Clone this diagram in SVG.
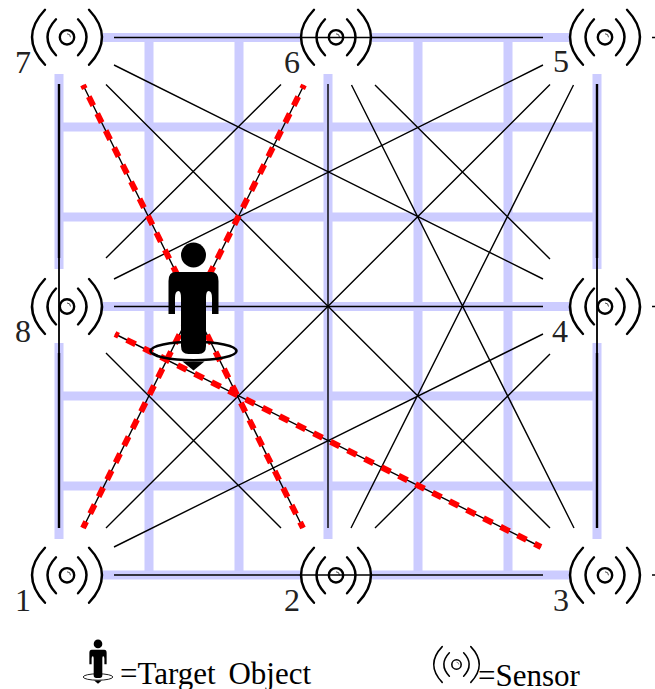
<svg xmlns="http://www.w3.org/2000/svg" xmlns:xlink="http://www.w3.org/1999/xlink" width="655" height="689" viewBox="0 0 655 689">
<style>
.g{stroke:#ccccff;stroke-width:9;fill:none}
.k{stroke:#000;stroke-width:1.4;fill:none}
.t{stroke:#000;stroke-width:2.4;fill:none}
.r{stroke:#ff0000;stroke-width:6;fill:none;stroke-dasharray:10 9;stroke-dashoffset:6}
.a{stroke:#000;stroke-width:2.4;fill:none;stroke-linecap:round}
.n{font-family:"Liberation Serif",serif;font-size:32px;fill:#222}
.l{font-family:"Liberation Serif",serif;font-size:31px;fill:#000;word-spacing:5px}
</style>
<defs>
<g id="sensor">
<path class="a" d="M-22-27.500Q-48 0-22 27.500M22-27.500Q48 0 22 27.500M-11-18Q-28 0-11 18M11-18Q28 0 11 18"/>
<circle r="7.200" fill="none" stroke="#000" stroke-width="2.400"/>
<path d="M0-3.500A3.500 3.500 0 0 1 3.500 0" fill="none" stroke="#000" stroke-width="0.700"/>
</g>
<g id="person">
<circle cx="0" cy="-96" r="12.500" fill="#000"/>
<path fill="#000" d="M-18-79H18Q25-79 25-70V-37H18.500V-53Q18.500-60 15-60Q12.500-60 12.500-53V-5Q12.500 3 5 3H-5Q-12.500 3-12.500-5V-53Q-12.500-60-15-60Q-18.500-60-18.500-53V-37H-25V-70Q-25-79-18-79Z"/>
<ellipse cx="0" cy="0" rx="43" ry="9.300" fill="none" stroke="#000" stroke-width="2.600"/>
<path fill="#000" d="M-11 10.500H11L0 19.500Z"/>
</g>
</defs>
<g id="grid">
<path class="g" d="M149 37V575M239 37V575M418 37V575M508 37V575M328 74V539M59 74V269M59 343V539M597 74V269M597 343V539"/>
<path class="g" d="M55 127H601M55 217H601M55 396H601M55 486H601M103 306.500H569M103 37.500H300M372 37.500H569M103 575H300M372 575H569"/>
</g>
<g id="connectors">
<path class="k" d="M114 37.500H543M114 306.500H543M114 575H543M59 84V528M328 84V528M597 84V528"/>
<path class="t" d="M59 84V258M59 353V528M597 84V258M597 353V528"/>
<path class="k" d="M114 65L543 279M106 84.500L550 528M83 85L303 528M281 84.500L106 258M304 85L83 528M351.500 85L574 528M375 85L550 259M543 65L114 279M550 84.500L106 528M573.500 85L351 528M115 334L541 547M106 353L281 528M543 334L114 547M550 354L375 528"/>
<path class="r" d="M83 85L303 528M304 85L83 528M115 334L541 547"/>
</g>
<g id="sensor-7"><use xlink:href="#sensor" x="67" y="37.300"/><text class="n" x="15" y="73">7</text></g>
<g id="sensor-6"><use xlink:href="#sensor" x="336" y="37.300"/><text class="n" x="284" y="73">6</text></g>
<g id="sensor-5"><use xlink:href="#sensor" x="605" y="37.300"/><text class="n" x="553" y="72">5</text></g>
<g id="sensor-8"><use xlink:href="#sensor" x="67" y="306.500"/><text class="n" x="15" y="342">8</text></g>
<g id="sensor-4"><use xlink:href="#sensor" x="605" y="306.500"/><text class="n" x="552" y="342">4</text></g>
<g id="sensor-1"><use xlink:href="#sensor" x="67" y="575.300"/><text class="n" x="15" y="611">1</text></g>
<g id="sensor-2"><use xlink:href="#sensor" x="336" y="575.300"/><text class="n" x="284" y="611">2</text></g>
<g id="sensor-3"><use xlink:href="#sensor" x="605" y="575.300"/><text class="n" x="553" y="611">3</text></g>
<path class="k" d="M59 258V353M597 258V353"/>
<g id="target"><use xlink:href="#person" transform="translate(193.500 351)"/></g>
<g id="legend">
<use xlink:href="#person" transform="translate(98 677) scale(0.345)"/>
<text class="l" x="120" y="684">=Target Object</text>
<use xlink:href="#sensor" transform="translate(456.500 664.500) scale(0.65)"/>
<text class="l" x="478" y="686">=Sensor</text>
</g>
<path class="k" d="M652 37.500H655M652 306.500H655M652 575H655"/>
</svg>
